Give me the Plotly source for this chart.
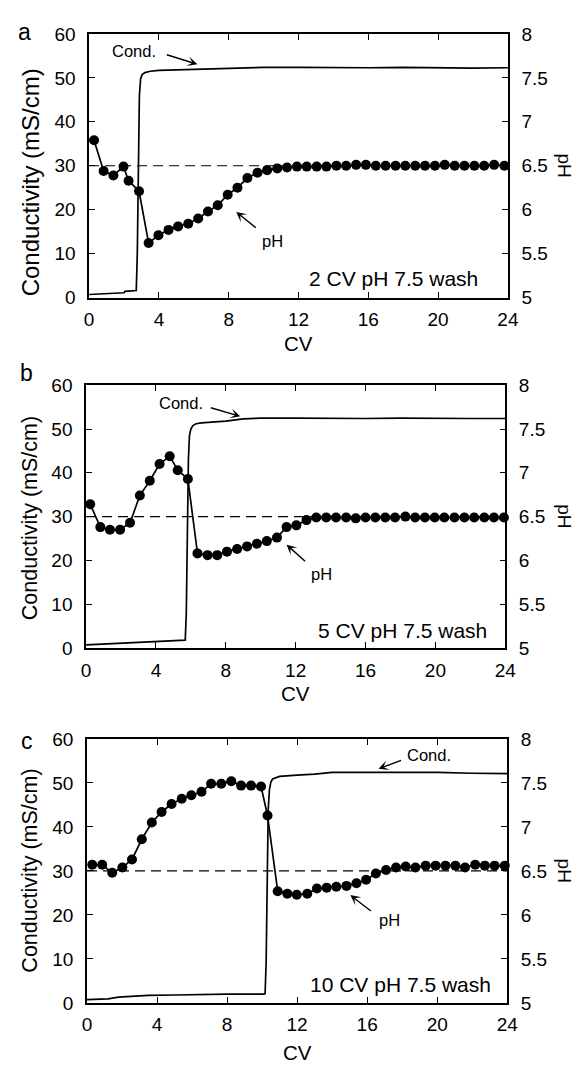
import plotly.graph_objects as go

# ---------------- data ----------------
# Conductivity traces (mS/cm) vs column volumes
a_cond_cv = [0, 0.5, 1.0, 1.5, 2.0, 2.05, 2.5, 2.70, 2.76, 2.82, 2.88, 2.95, 3.05, 3.2, 3.5,
             4.0, 5.0, 6.0, 7.0, 8.0, 9.0, 10.0, 12.0, 14.0, 16.0, 18.0, 20.0, 22.0, 24.0]
a_cond = [0.7, 0.8, 0.9, 1.0, 1.1, 1.4, 1.5, 1.6, 10.0, 32.0, 46.0, 49.8, 50.8, 51.2, 51.5,
          51.7, 51.8, 52.0, 52.1, 52.2, 52.3, 52.4, 52.4, 52.3, 52.3, 52.4, 52.3, 52.2, 52.3]

b_cond_cv = [0, 1, 2, 3, 4, 5, 5.68, 5.74, 5.80, 5.86, 5.92, 6.0, 6.12, 6.3, 6.6, 7.0, 8.0,
             9.0, 10.0, 12.0, 14.0, 16.0, 18.0, 20.0, 22.0, 24.0]
b_cond = [0.7, 0.9, 1.2, 1.4, 1.6, 1.7, 1.8, 8.0, 28.0, 43.0, 48.5, 50.0, 50.8, 51.2, 51.4,
          51.5, 51.8, 52.3, 52.5, 52.5, 52.4, 52.4, 52.5, 52.4, 52.4, 52.4]

c_cond_cv = [0, 0.5, 1.2, 1.8, 2.5, 3.5, 5.0, 6.0, 8.0, 10.1, 10.17, 10.23, 10.29, 10.35,
             10.42, 10.5, 10.6, 11.0, 12.0, 13.0, 14.0, 16.0, 18.0, 20.0, 22.0, 24.0]
c_cond = [0.75, 0.8, 0.9, 1.3, 1.5, 1.7, 1.8, 1.9, 2.0, 2.0, 2.1, 9.0, 30.0, 44.0, 48.5,
          50.2, 50.9, 51.5, 51.8, 52.0, 52.4, 52.4, 52.4, 52.4, 52.2, 52.1]

# pH readings vs column volumes
a_ph_cv = [0.28, 0.83, 1.39, 1.97, 2.26, 2.86, 3.41, 3.97, 4.55, 5.10, 5.68, 6.25, 6.81, 7.37,
           7.94, 8.50, 9.07, 9.65, 10.20, 10.78, 11.34, 11.91, 12.47, 13.04, 13.60, 14.17,
           14.73, 15.30, 15.86, 16.43, 16.99, 17.56, 18.12, 18.69, 19.25, 19.82, 20.38,
           20.95, 21.51, 22.08, 22.64, 23.21, 23.80]
a_ph = [6.79, 6.44, 6.39, 6.49, 6.33, 6.21, 5.62, 5.71, 5.77, 5.81, 5.84, 5.90, 5.98, 6.05,
        6.17, 6.25, 6.36, 6.42, 6.45, 6.47, 6.48, 6.49, 6.49, 6.49, 6.49, 6.50, 6.50, 6.51,
        6.51, 6.50, 6.50, 6.50, 6.50, 6.50, 6.50, 6.50, 6.51, 6.50, 6.50, 6.50, 6.50, 6.51,
        6.50]

b_ph_cv = [0.24, 0.82, 1.37, 1.95, 2.52, 3.08, 3.65, 4.21, 4.79, 5.25, 5.83, 6.38, 6.96, 7.51,
           8.07, 8.65, 9.22, 9.78, 10.35, 10.93, 11.48, 12.04, 12.62, 13.18, 13.75, 14.31,
           14.89, 15.44, 16.00, 16.56, 17.13, 17.69, 18.28, 18.84, 19.40, 19.96, 20.51,
           21.09, 21.66, 22.22, 22.80, 23.35, 23.92]
b_ph = [6.64, 6.38, 6.35, 6.35, 6.43, 6.74, 6.91, 7.10, 7.19, 7.03, 6.93, 6.08, 6.06, 6.06,
        6.10, 6.13, 6.16, 6.19, 6.22, 6.26, 6.38, 6.40, 6.46, 6.49, 6.49, 6.49, 6.49, 6.48,
        6.49, 6.49, 6.49, 6.49, 6.50, 6.49, 6.49, 6.49, 6.49, 6.49, 6.49, 6.49, 6.49, 6.49,
        6.49]

c_ph_cv = [0.30, 0.87, 1.44, 2.02, 2.57, 3.13, 3.70, 4.26, 4.83, 5.41, 5.96, 6.54, 7.09, 7.67,
           8.24, 8.80, 9.37, 9.94, 10.31, 10.89, 11.44, 11.98, 12.58, 13.13, 13.69, 14.24,
           14.82, 15.39, 15.94, 16.50, 17.08, 17.65, 18.20, 18.76, 19.34, 19.91, 20.47,
           21.04, 21.59, 22.17, 22.72, 23.28, 23.86]
c_ph = [6.57, 6.57, 6.48, 6.54, 6.63, 6.86, 7.05, 7.17, 7.26, 7.32, 7.36, 7.40, 7.49, 7.49,
        7.52, 7.47, 7.47, 7.46, 7.13, 6.27, 6.24, 6.23, 6.24, 6.30, 6.31, 6.32, 6.33, 6.36,
        6.40, 6.47, 6.51, 6.54, 6.55, 6.54, 6.56, 6.56, 6.56, 6.56, 6.54, 6.57, 6.56, 6.56,
        6.56]

target_ph = 6.5
cv_range = [0, 24]
panel_letters = ["a", "b", "c"]
wash_labels = ["2 CV pH 7.5 wash", "5 CV pH 7.5 wash", "10 CV pH 7.5 wash"]
cond_ticks = [0, 10, 20, 30, 40, 50, 60]
ph_ticks = [5, 5.5, 6, 6.5, 7, 7.5, 8]
cv_ticks = [0, 4, 8, 12, 16, 20, 24]

# ---------------- layout geometry (pixels) ----------------
W, H = 587, 1074
FONT = "Liberation Sans, Arial, Helvetica, sans-serif"
panels = [
    dict(cv=a_cond_cv, cond=a_cond, pcv=a_ph_cv, ph=a_ph, x0=86.5, x1=517.0, y0=24.4, y1=293.3),
    dict(cv=b_cond_cv, cond=b_cond, pcv=b_ph_cv, ph=b_ph, x0=83.3, x1=514.3, y0=382.7, y1=650.7),
    dict(cv=c_cond_cv, cond=c_cond, pcv=c_ph_cv, ph=c_ph, x0=84.3, x1=516.3, y0=743.5, y1=1012.7),
]

# in-plot labels: (cv, cond) and arrows: (head cv, head cond, dx px, dy px)
cond_text = [(2.59, 56.1), (5.44, 56.0), (19.54, 56.3)]
cond_arrow = [(6.2, 53.1, -32, -10), (8.83, 52.9, -31, -9), (16.65, 53.2, 24, -9)]
ph_text = [(10.51, 12.9), (13.46, 16.8), (17.26, 18.8)]
ph_arrow = [(8.43, 19.5, 21, 17), (11.48, 23.6, 20, 18), (15.04, 24.5, 22, 17)]
wash_pos = [(17.44, 4.3), (18.1, 4.1), (17.93, 4.2)]
letter_pos = [(20, 22.5), (22, 370), (22.6, 746)]
cv_title_y = [340, 697.5, 1063.5]
ytitle = [(26.5, 176, 24), (26, 518, 21.5), (25.5, 878, 21.5)]   # x px, y px, font size

fig = go.Figure()
axis_common = dict(showline=True, linecolor="black", linewidth=1.5, ticks="inside",
                   ticklen=6, tickwidth=1.3, tickcolor="black", showgrid=False, zeroline=False,
                   tickfont=dict(family=FONT, size=19, color="black"))
annotations = []


def paper_text(text, px, py, size, angle=0):
    return dict(text=text, xref="paper", yref="paper", x=px / W, y=1 - py / H,
                xanchor="center", yanchor="middle", textangle=angle, showarrow=False,
                font=dict(family=FONT, size=size, color="black"))


def arrow(xa, ya, hx, hy, dx, dy):
    return dict(text="", xref=xa, yref=ya, x=hx, y=hy, ax=dx, ay=dy, showarrow=True,
                arrowhead=3, arrowsize=1.2, arrowwidth=1.4, arrowcolor="black")


for i, p in enumerate(panels):
    n = i + 1
    xa = "x" if n == 1 else f"x{n}"
    ya_c = "y" if n == 1 else f"y{2 * n - 1}"
    ya_p = f"y{2 * n}"
    xd = [p["x0"] / W, p["x1"] / W]
    yd = [1 - p["y1"] / H, 1 - p["y0"] / H]

    # reference pH line
    fig.add_trace(go.Scatter(x=cv_range, y=[target_ph, target_ph], xaxis=xa, yaxis=ya_p,
                             mode="lines", line=dict(color="black", width=1.2, dash="10px,6px"),
                             showlegend=False, hoverinfo="skip"))
    # conductivity
    fig.add_trace(go.Scatter(x=p["cv"], y=p["cond"], xaxis=xa, yaxis=ya_c, mode="lines",
                             line=dict(color="black", width=1.7), showlegend=False))
    # pH
    fig.add_trace(go.Scatter(x=p["pcv"], y=p["ph"], xaxis=xa, yaxis=ya_p, mode="lines+markers",
                             line=dict(color="black", width=1.7),
                             marker=dict(color="black", size=10), cliponaxis=False,
                             showlegend=False))

    xkey = "xaxis" if n == 1 else f"xaxis{n}"
    ykc = "yaxis" if n == 1 else f"yaxis{2 * n - 1}"
    ykp = f"yaxis{2 * n}"
    fig.layout[xkey] = dict(domain=xd, anchor=ya_c, range=cv_range, tickvals=cv_ticks,
                            mirror="ticks", ticklabelstandoff=4, **axis_common)
    fig.layout[ykc] = dict(domain=yd, anchor=xa, range=[0, 60], tickvals=cond_ticks,
                           ticklabelstandoff=8, **axis_common)
    fig.layout[ykp] = dict(overlaying=ya_c, anchor=xa, side="right", range=[5, 8],
                           tickvals=ph_ticks, ticklabelstandoff=8, **axis_common)

    cx = (p["x0"] + p["x1"]) / 2
    cy = (p["y0"] + p["y1"]) / 2
    annotations += [
        paper_text("Conductivity (mS/cm)", ytitle[i][0], ytitle[i][1], ytitle[i][2], -90),
        paper_text("pH", 575, cy, 19, 90),
        paper_text("CV", cx, cv_title_y[i], 20.5),
        paper_text(panel_letters[i], letter_pos[i][0], letter_pos[i][1], 23),
        dict(text="Cond.", xref=xa, yref=ya_c, x=cond_text[i][0], y=cond_text[i][1],
             showarrow=False, font=dict(family=FONT, size=16.5, color="black")),
        arrow(xa, ya_c, *cond_arrow[i]),
        dict(text="pH", xref=xa, yref=ya_c, x=ph_text[i][0], y=ph_text[i][1],
             showarrow=False, font=dict(family=FONT, size=16.5, color="black")),
        arrow(xa, ya_c, *ph_arrow[i]),
        dict(text=wash_labels[i], xref=xa, yref=ya_c, x=wash_pos[i][0], y=wash_pos[i][1],
             showarrow=False, font=dict(family=FONT, size=21, color="black")),
    ]

fig.update_layout(width=W, height=H, margin=dict(l=0, r=0, t=0, b=0),
                  paper_bgcolor="white", plot_bgcolor="white", showlegend=False,
                  annotations=annotations)

fig.write_html("out.html")
